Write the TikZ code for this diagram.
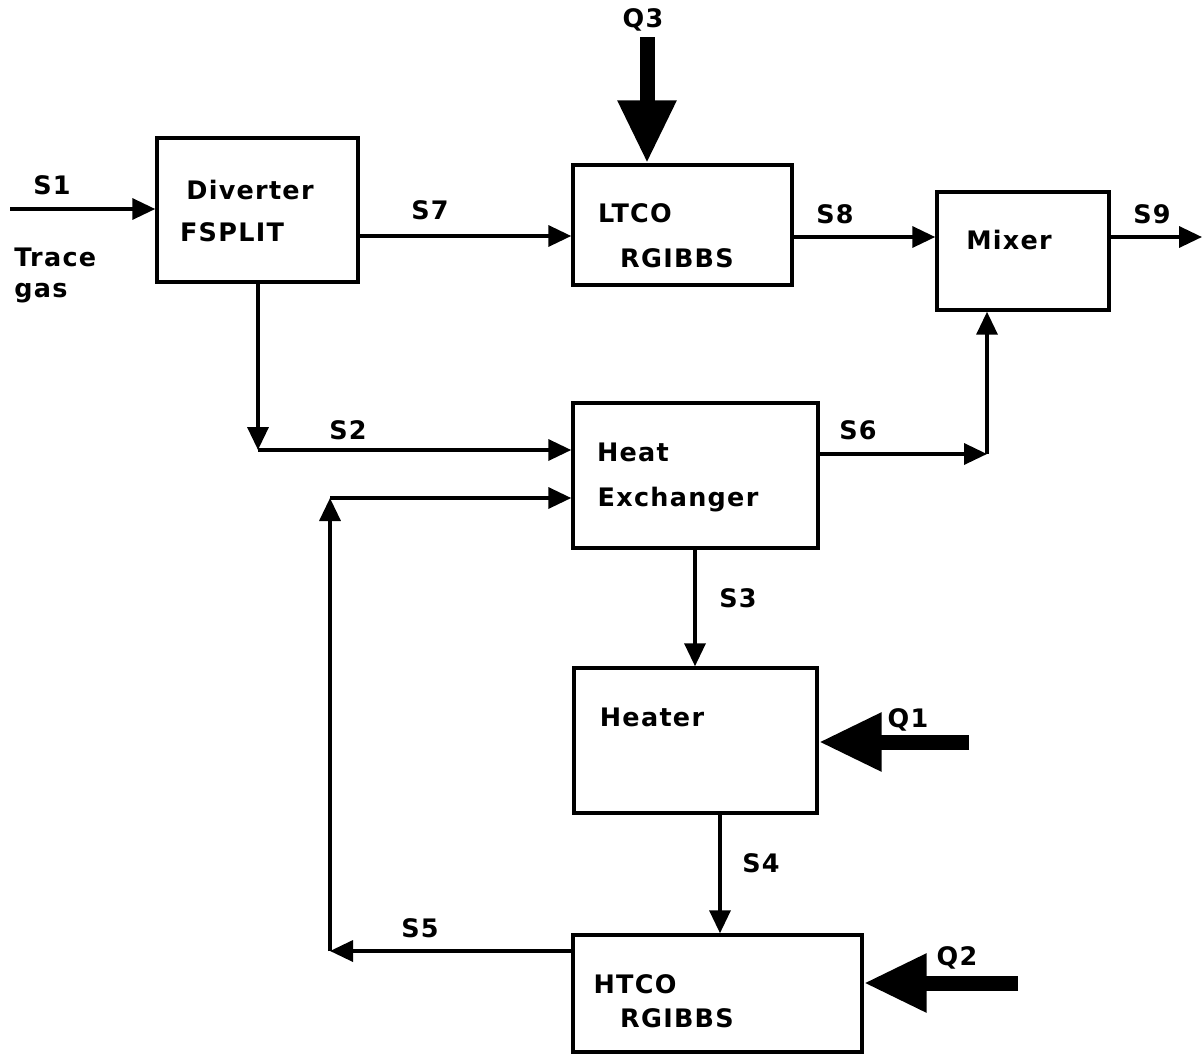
\documentclass[tikz,border=0pt]{standalone}
\usepackage{fontspec}
\newfontfamily\lblfont{DejaVu Sans}[LetterSpace=5]
\usetikzlibrary{arrows.meta}
\begin{document}
\begin{tikzpicture}[x=0.02cm,y=-0.02cm,
  box/.style={draw, line width=0.07cm, inner sep=0pt},
  txt/.style={font=\lblfont\bfseries\fontsize{14.5}{17}\selectfont, inner sep=0pt},
  flow/.style={line width=0.07cm, -{Triangle[length=0.46cm,width=0.42cm]}},
  qarrow/.style={line width=0.3cm, -{Triangle[length=1.26cm,width=1.1cm]}}]
\useasboundingbox (0,0) rectangle (1203,1055);
% boxes
\node[box, minimum width=4.02cm, minimum height=2.88cm] (div) at (257.5,210) {};
\node[box, minimum width=4.38cm, minimum height=2.4cm] (ltco) at (682.5,225) {};
\node[box, minimum width=3.44cm, minimum height=2.36cm] (mix) at (1023,251) {};
\node[box, minimum width=4.9cm, minimum height=2.9cm] (hx) at (695.5,475.5) {};
\node[box, minimum width=4.86cm, minimum height=2.9cm] (htr) at (695.5,740.5) {};
\node[box, minimum width=5.78cm, minimum height=2.34cm] (htco) at (717.5,993.5) {};
% box texts
\node[txt] (tdiv1) at (250,190) {Diverter};
\node[txt] (tdiv2) at (232,232) {FSPLIT};
\node[txt] (tltco1) at (635,213) {LTCO};
\node[txt] (tltco2) at (677,258) {RGIBBS};
\node[txt] (tmix) at (1009,240) {Mixer};
\node[txt] (thx1) at (633,452) {Heat};
\node[txt] (thx2) at (678,500) {Exchanger};
\node[txt] (thtr) at (652,717) {Heater};
\node[txt] (thtco1) at (635,984) {HTCO};
\node[txt] (thtco2) at (677,1018) {RGIBBS};
% stream labels
\node[txt] (ls1) at (52,185) {S1};
\node[txt, anchor=west] (ltrace) at (14,257) {Trace};
\node[txt, anchor=west] (lgas) at (14,293) {gas};
\node[txt] (ls7) at (430,210) {S7};
\node[txt] (ls8) at (835,214) {S8};
\node[txt] (ls9) at (1152,214) {S9};
\node[txt] (ls2) at (348,430) {S2};
\node[txt] (ls6) at (858,430) {S6};
\node[txt] (ls3) at (738,598) {S3};
\node[txt] (ls4) at (761,863) {S4};
\node[txt] (ls5) at (420,928) {S5};
\node[txt] (lq3) at (643,20) {Q3};
\node[txt] (lq1) at (908,720) {Q1};
\node[txt] (lq2) at (957,958) {Q2};
% connectors
\coordinate (s1in) at (10,209);
\draw[flow] (s1in) -- (s1in -| div.west);
\coordinate (s7y) at (0,236);
\draw[flow] (s7y -| div.east) -- (s7y -| ltco.west);
\coordinate (s8y) at (0,237);
\draw[flow] (s8y -| ltco.east) -- (s8y -| mix.west);
\coordinate (s9out) at (1202,237);
\draw[flow] (s8y -| mix.east) -- (s9out);
\coordinate (c2) at (258,450);
\draw[flow] (c2 |- div.south) -- (c2);
\draw[flow] (c2) -- (c2 -| hx.west);
\coordinate (c6) at (987,454);
\draw[flow] (c6 -| hx.east) -- (c6);
\draw[flow] (c6) -- (c6 |- mix.south);
\coordinate (x3) at (695,0);
\draw[flow] (x3 |- hx.south) -- (x3 |- htr.north);
\coordinate (x4) at (720,0);
\draw[flow] (x4 |- htr.south) -- (x4 |- htco.north);
\coordinate (c5) at (330,951);
\draw[flow] (c5 -| htco.west) -- (c5);
\coordinate (c5t) at (330,498);
\draw[flow] (c5) -- (c5t);
\draw[flow] (c5t) -- (c5t -| hx.west);
% heat duty arrows
\coordinate (q3s) at (647,37);
\draw[qarrow] (q3s) -- (q3s |- ltco.north);
\coordinate (q1s) at (969,742);
\draw[qarrow] (q1s) -- (q1s -| htr.east);
\coordinate (q2s) at (1018,983);
\draw[qarrow] (q2s) -- (q2s -| htco.east);
\end{tikzpicture}
\end{document}
